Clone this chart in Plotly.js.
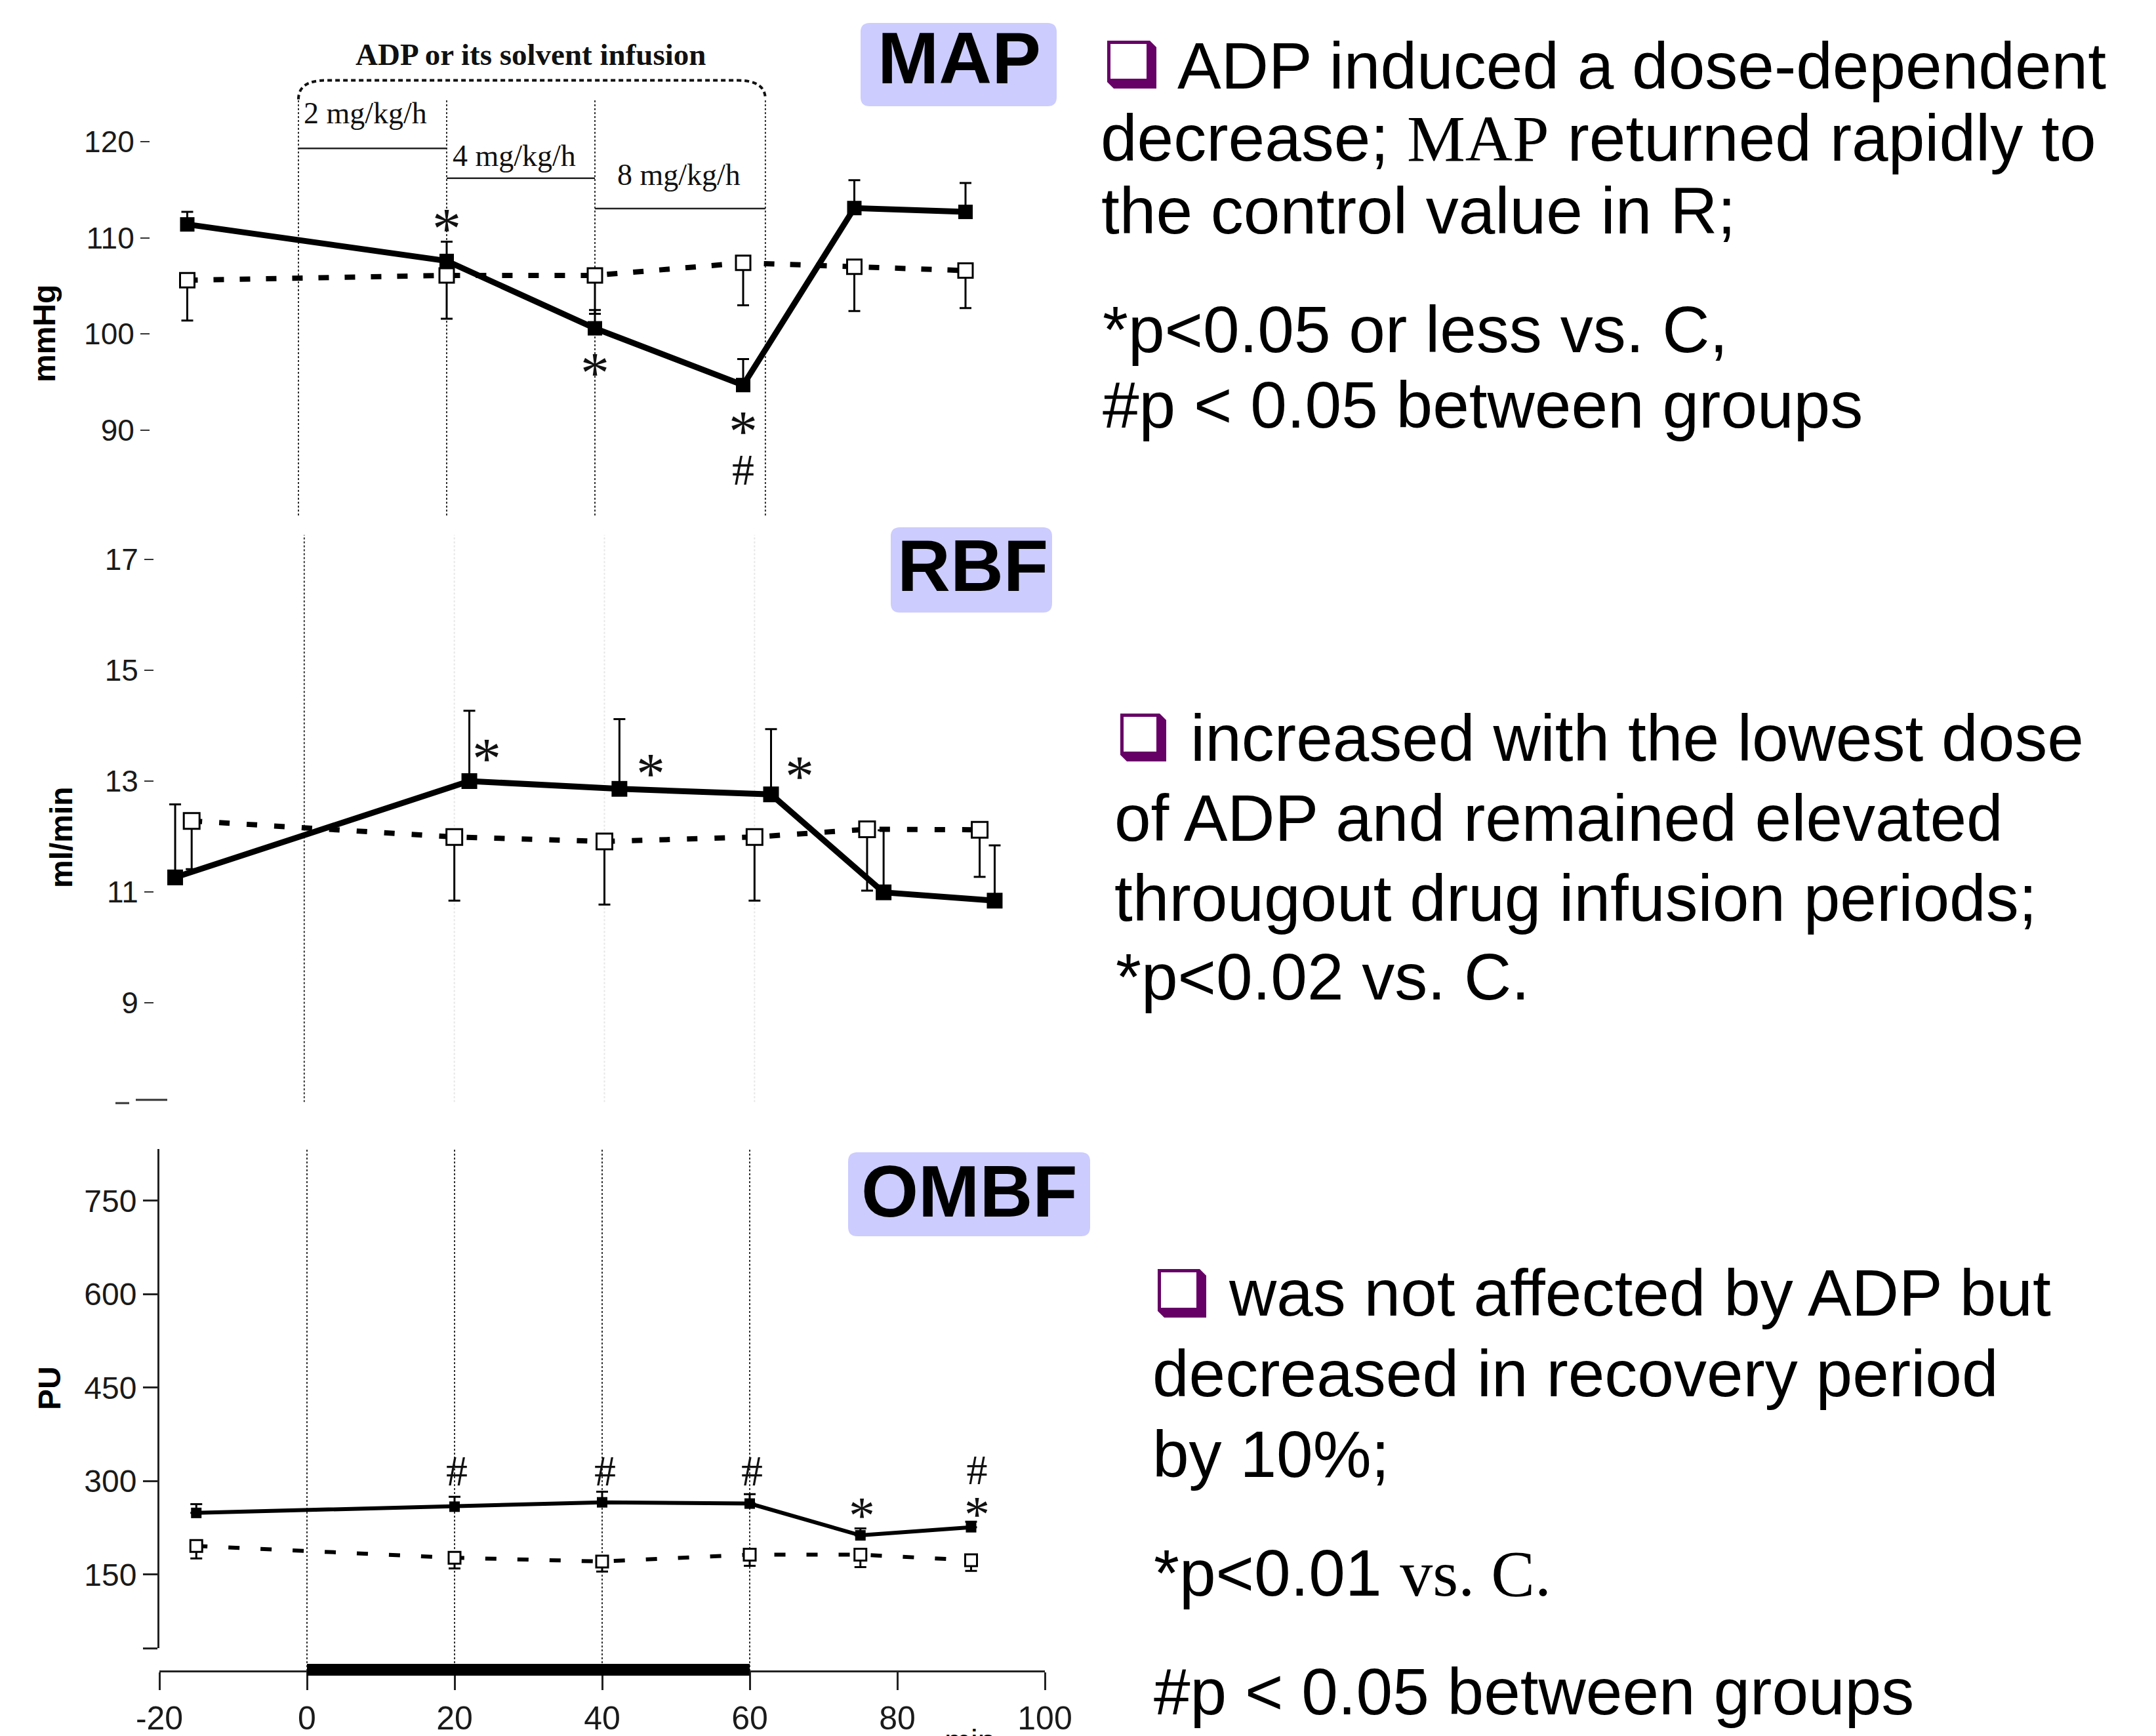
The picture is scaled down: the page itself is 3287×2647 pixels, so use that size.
<!DOCTYPE html>
<html><head><meta charset="utf-8">
<script src="https://cdn.plot.ly/plotly-3.0.1.min.js"></script>
<style>html,body{margin:0;padding:0;background:#fff;} #chart{width:3287px;height:2647px;}</style>
</head><body><div id="chart"></div>
<script>
const W = 3287, H = 2647;

// ---------------- data ----------------
const timeMin = [-15, 20, 40, 60, 75, 90];
const timeTicks = [-20, 0, 20, 40, 60, 80, 100];
const infusionBounds = [0, 20, 40, 63];
const doseLabels = ['2 mg/kg/h', '4 mg/kg/h', '8 mg/kg/h'];

const mapTicks = [90, 100, 110, 120];
const mapAdp = [111.4, 107.6, 100.6, 94.7, 113.1, 112.7];
const mapAdpSem = [1.3, 2.0, 1.9, 2.7, 2.9, 3.0];
const mapCtrl = [105.6, 106.1, 106.1, 107.4, 107.0, 106.6];
const mapCtrlSem = [4.2, 4.5, 4.0, 4.4, 4.6, 3.9];

const rbfTicks = [9, 11, 13, 15, 17];
const rbfAdpTime = [-17.2, 22.0, 42.0, 62.2, 77.2, 92.0];
const rbfAdp = [11.26, 13.0, 12.86, 12.76, 10.99, 10.84];
const rbfAdpSem = [1.32, 1.27, 1.26, 1.18, 1.12, 1.0];
const rbfCtrl = [12.28, 11.99, 11.91, 11.99, 12.13, 12.12];
const rbfCtrlSem = [0.87, 1.15, 1.14, 1.15, 1.11, 0.85];

const ombfTicks = [150, 300, 450, 600, 750];
const ombfAdp = [249, 259, 266, 264, 213, 226];
const ombfAdpSem = [14, 16, 17, 15, 11, 9];
const ombfCtrl = [196, 177, 171, 182, 182, 173];
const ombfCtrlSem = [20, 17, 16, 18, 20, 17];

const mapSig = [[20, 111.9, '*'], [40, 96.9, '*']];
const rbfSig = [[24.3, 13.57, '*'], [46.2, 13.30, '*'], [66.0, 13.25, '*']];
const ombfSig = [[20.3, 317, '#'], [40.4, 317, '#'], [60.3, 317, '#'], [75.2, 258, '*']];

const textBlock1 = ['ADP induced a dose-dependent',
  'decrease; <span style="font-family:Liberation Serif">MAP</span> returned rapidly to',
  'the control value in R;', '*p&lt;0.05 or less vs. C,', '#p &lt; 0.05 between groups'];
const textBlock2 = ['increased with the lowest dose', 'of ADP and remained elevated',
  'througout drug infusion periods;', '*p&lt;0.02 vs. C.'];
const textBlock3 = ['was not affected by ADP but', 'decreased in recovery period', 'by 10%;',
  '*p&lt;0.01 <span style="font-family:Liberation Serif">vs. C.</span>', '#p &lt; 0.05 between groups'];
const panelNames = ['MAP', 'RBF', 'OMBF'];
const unitNames = ['mmHg', 'ml/min', 'PU'];

// ---------------- helpers ----------------
const X = v => v / W;
const Y = v => 1 - v / H;
const SANS = 'Liberation Sans, Arial, sans-serif';
const SERIF = 'Liberation Serif, Times New Roman, serif';
const NARROW = 'Liberation Sans Narrow, Arial Narrow, Liberation Sans, sans-serif';
const zeros = a => a.map(() => 0);

function adpTrace(x, y, sem, xa, ya, lw, ms) {
  return {x, y, xaxis: xa, yaxis: ya, type: 'scatter', mode: 'lines+markers',
    line: {color: '#000', width: lw},
    marker: {symbol: 'square', size: ms, color: '#000'},
    error_y: {type: 'data', symmetric: false, array: sem, arrayminus: zeros(sem),
      color: '#000', thickness: 3, width: 9},
    hoverinfo: 'skip'};
}
function ctrlTrace(x, y, sem, xa, ya, lw, ms, dash) {
  return {x, y, xaxis: xa, yaxis: ya, type: 'scatter', mode: 'lines+markers',
    line: {color: '#000', width: lw, dash},
    marker: {symbol: 'square', size: ms, color: '#fff', line: {color: '#000', width: 3}},
    error_y: {type: 'data', symmetric: false, array: zeros(sem), arrayminus: sem,
      color: '#000', thickness: 3, width: 9},
    hoverinfo: 'skip'};
}

const traces = [
  adpTrace(timeMin, mapAdp, mapAdpSem, 'x', 'y', 9, 22),
  ctrlTrace(timeMin, mapCtrl, mapCtrlSem, 'x', 'y', 8, 22, '16px,24px'),
  adpTrace(rbfAdpTime, rbfAdp, rbfAdpSem, 'x2', 'y2', 9, 24),
  ctrlTrace(timeMin, rbfCtrl, rbfCtrlSem, 'x2', 'y2', 8, 24, '16px,26px'),
  adpTrace(timeMin, ombfAdp, ombfAdpSem, 'x3', 'y3', 6, 16),
  ctrlTrace(timeMin, ombfCtrl, ombfCtrlSem, 'x3', 'y3', 6, 18, '17px,32px')
];

const shapes = [];
const annotations = [];

// MAP panel decorations
infusionBounds.forEach(t => shapes.push({type: 'line', xref: 'x', yref: 'y', x0: t, x1: t, y0: 124.3, y1: 81,
  line: {color: '#333', width: 2, dash: 'dot'}, layer: 'below'}));
shapes.push({type: 'path', xref: 'x', yref: 'y',
  path: 'M0,124.4 Q0,126.37 3.7,126.37 L59.3,126.37 Q63,126.37 63,124.4',
  line: {color: '#111', width: 4, dash: '7px,5px'}, fillcolor: 'rgba(0,0,0,0)'});
const underlineY = [119.3, 116.2, 113.05];
const doseShift = [26, 7, 24];
const doseXShift = [6, 7, 32];
doseLabels.forEach((lab, i) => {
  shapes.push({type: 'line', xref: 'x', yref: 'y', x0: infusionBounds[i], x1: infusionBounds[i + 1],
    y0: underlineY[i], y1: underlineY[i], line: {color: '#222', width: 2.5}});
  annotations.push({xref: 'x', yref: 'y', x: infusionBounds[i], y: underlineY[i], xanchor: 'left', yanchor: 'bottom',
    xshift: doseXShift[i], yshift: doseShift[i], text: lab, showarrow: false,
    font: {family: SERIF, size: 46, color: '#111'}});
});
annotations.push({xref: 'x', yref: 'y', x: 31.4, y: 129.1, xanchor: 'center', yanchor: 'middle',
  text: '<b>ADP or its solvent infusion</b>', showarrow: false,
  font: {family: SERIF, size: 47, color: '#111'}});

// RBF panel decorations
shapes.push({type: 'line', xref: 'x2', yref: 'y2', x0: 0, x1: 0, y0: 7.2, y1: 17.45,
  line: {color: '#333', width: 2, dash: 'dot'}, layer: 'below'});
[20, 40, 60].forEach(t => shapes.push({type: 'line', xref: 'x2', yref: 'y2', x0: t, x1: t, y0: 7.2, y1: 17.45,
  line: {color: '#e6e6e6', width: 2, dash: 'dot'}, layer: 'below'}));
shapes.push({type: 'line', xref: 'paper', yref: 'paper', x0: X(207), x1: X(255), y0: Y(1677), y1: Y(1677), line: {color: '#333', width: 3}});
shapes.push({type: 'line', xref: 'paper', yref: 'paper', x0: X(176), x1: X(197), y0: Y(1682), y1: Y(1682), line: {color: '#333', width: 3}});

// OMBF panel decorations
[0, 20, 40, 60].forEach(t => shapes.push({type: 'line', xref: 'x3', yref: 'paper', x0: t, x1: t, y0: Y(2548), y1: Y(1752),
  line: {color: '#333', width: 2, dash: 'dot'}, layer: 'below'}));
shapes.push({type: 'rect', xref: 'x3', yref: 'paper', x0: 0, x1: 60, y0: Y(2555), y1: Y(2537),
  fillcolor: '#000', line: {width: 0}});

// significance marks
function sig(list, xa, ya, starSize, hashSize) {
  list.forEach(([x, y, s]) => {
    const size = s === '*' ? starSize : hashSize;
    annotations.push({xref: xa, yref: ya, x, y, text: s, showarrow: false, xanchor: 'center', yanchor: 'middle',
      yshift: s === '*' ? -0.16 * size : 0, font: {family: SERIF, size, color: '#111'}});
  });
}
sig(mapSig, 'x', 'y', 88, 68);
sig(rbfSig, 'x2', 'y2', 88, 68);
sig(ombfSig, 'x3', 'y3', 80, 66);
// stacked marks (one text each): MAP at 60 min "*" over "#", OMBF at 90 min "#" over "*"
annotations.push({xref: 'x', yref: 'y', x: 60, y: 90.85, xanchor: 'center', yanchor: 'middle', yshift: -38,
  text: '<span style="font-size:88px">*</span><br><span style="font-size:68px">#</span>', showarrow: false,
  font: {family: SERIF, size: 40, color: '#111'}});
annotations.push({xref: 'x3', yref: 'y3', x: 90.8, y: 317, xanchor: 'center', yanchor: 'middle', yshift: -37,
  text: '<span style="font-size:64px">#</span><br><span style="font-size:78px">*</span>', showarrow: false,
  font: {family: SERIF, size: 55, color: '#111'}});

// panel name boxes
function rr(x0, y0, x1, y1, r) {
  const a = v => X(v).toFixed(5), b = v => Y(v).toFixed(5);
  return `M${a(x0 + r)},${b(y0)} L${a(x1 - r)},${b(y0)} Q${a(x1)},${b(y0)} ${a(x1)},${b(y0 + r)} ` +
    `L${a(x1)},${b(y1 - r)} Q${a(x1)},${b(y1)} ${a(x1 - r)},${b(y1)} L${a(x0 + r)},${b(y1)} ` +
    `Q${a(x0)},${b(y1)} ${a(x0)},${b(y1 - r)} L${a(x0)},${b(y0 + r)} Q${a(x0)},${b(y0)} ${a(x0 + r)},${b(y0)} Z`;
}
const boxes = [[1312, 35, 1611, 162, 1462, 127], [1358, 804, 1604, 934, 1483, 901], [1293, 1757, 1662, 1885, 1478, 1855]];
boxes.forEach((bx, i) => {
  shapes.push({type: 'path', xref: 'paper', yref: 'paper', path: rr(bx[0], bx[1], bx[2], bx[3], 14),
    fillcolor: '#ccccff', line: {width: 0}, layer: 'below'});
  annotations.push({xref: 'paper', yref: 'paper', x: X(bx[4]), y: Y(bx[5] - 0.3465 * 112),
    xanchor: 'center', yanchor: 'middle', text: '<b>' + panelNames[i] + '</b>',
    showarrow: false, font: {family: SANS, size: 112, color: '#000'}});
});

// axis unit titles
const unitPos = [[67, 509], [93, 1277], [75, 2117]];
unitNames.forEach((u, i) => annotations.push({xref: 'paper', yref: 'paper', x: X(unitPos[i][0]), y: Y(unitPos[i][1]),
  xanchor: 'center', yanchor: 'middle', text: '<b>' + u + '</b>', textangle: -90, showarrow: false,
  font: {family: SANS, size: 48, color: '#000'}}));
annotations.push({xref: 'paper', yref: 'paper', x: X(1478), y: Y(2626), xanchor: 'center', yanchor: 'top',
  text: 'min', showarrow: false, font: {family: SANS, size: 48, color: '#000'}});

// bullets + right-hand text
function bullet(x0, y0, x1, y1) {
  const a = v => X(v).toFixed(5), b = v => Y(v).toFixed(5);
  const bv = 10;
  shapes.push({type: 'path', xref: 'paper', yref: 'paper',
    path: `M${a(x0)},${b(y0)} L${a(x1 - bv)},${b(y0)} L${a(x1)},${b(y0 + bv)} L${a(x1)},${b(y1)} L${a(x0 + bv)},${b(y1)} L${a(x0)},${b(y1 - bv)} Z`,
    fillcolor: '#660066', line: {width: 0}});
  shapes.push({type: 'rect', xref: 'paper', yref: 'paper', x0: X(x0 + 5), x1: X(x1 - 15), y0: Y(y0 + 5), y1: Y(y1 - 15),
    fillcolor: '#fff', line: {width: 0}});
}
function lines(block, xs, baselines) {
  block.forEach((t, i) => annotations.push({xref: 'paper', yref: 'paper', x: X(xs[i]), y: Y(baselines[i] - 0.3465 * 100),
    xanchor: 'left', yanchor: 'middle', text: t, showarrow: false, font: {family: SANS, size: 100, color: '#000'}}));
}
bullet(1688, 62, 1763, 135);
bullet(1708, 1088, 1778, 1161);
bullet(1765, 1935, 1839, 2009);
lines(textBlock1, [1793, 1676, 1677, 1679, 1679], [135, 245, 356, 537, 652]);
lines(textBlock2, [1813, 1697, 1697, 1699], [1160, 1282, 1404, 1524]);
lines(textBlock3, [1871, 1755, 1755, 1757, 1757], [2006, 2129, 2252, 2433, 2614]);

const tickFont = s => ({family: NARROW, size: s, color: '#1a1a1a'});
const layout = {
  width: W, height: H, margin: {l: 0, r: 0, t: 0, b: 0},
  paper_bgcolor: '#fff', plot_bgcolor: 'rgba(0,0,0,0)', showlegend: false,
  font: {family: SANS, color: '#000'},
  xaxis: {domain: [X(229), X(1585)], range: [-20, 100], visible: false, anchor: 'y'},
  yaxis: {domain: [Y(788.1), Y(25.3)], range: [81, 133], anchor: 'x', tickvals: mapTicks,
    ticks: 'outside', ticklen: 14, tickwidth: 2, tickcolor: '#333', showline: false, showgrid: false,
    zeroline: false, tickfont: tickFont(46)},
  xaxis2: {domain: [X(235), X(1608)], range: [-20, 100], visible: false, anchor: 'y2'},
  yaxis2: {domain: [Y(1680.5), Y(815.4)], range: [7.2, 17.45], anchor: 'x2', tickvals: rbfTicks,
    ticks: 'outside', ticklen: 14, tickwidth: 2, tickcolor: '#333', showline: false, showgrid: false,
    zeroline: false, tickfont: tickFont(46)},
  xaxis3: {domain: [X(243), X(1593)], range: [-20, 100], anchor: 'free', position: Y(2548),
    showline: true, linewidth: 3, linecolor: '#222', ticks: 'outside', ticklen: 27, tickwidth: 3,
    tickcolor: '#222', tickvals: timeTicks, ticktext: timeTicks.map(String), showgrid: false, zeroline: false,
    tickfont: tickFont(50)},
  yaxis3: {domain: [Y(2513), Y(1752)], range: [32, 833], anchor: 'x3',
    tickvals: [32].concat(ombfTicks), ticktext: [''].concat(ombfTicks.map(String)),
    showline: true, linewidth: 3, linecolor: '#222', ticks: 'outside', ticklen: 22, tickwidth: 3,
    tickcolor: '#222', showgrid: false, zeroline: false, tickfont: tickFont(48)},
  shapes, annotations
};

Plotly.newPlot('chart', traces, layout, {staticPlot: true, displayModeBar: false});
</script>
</body></html>
